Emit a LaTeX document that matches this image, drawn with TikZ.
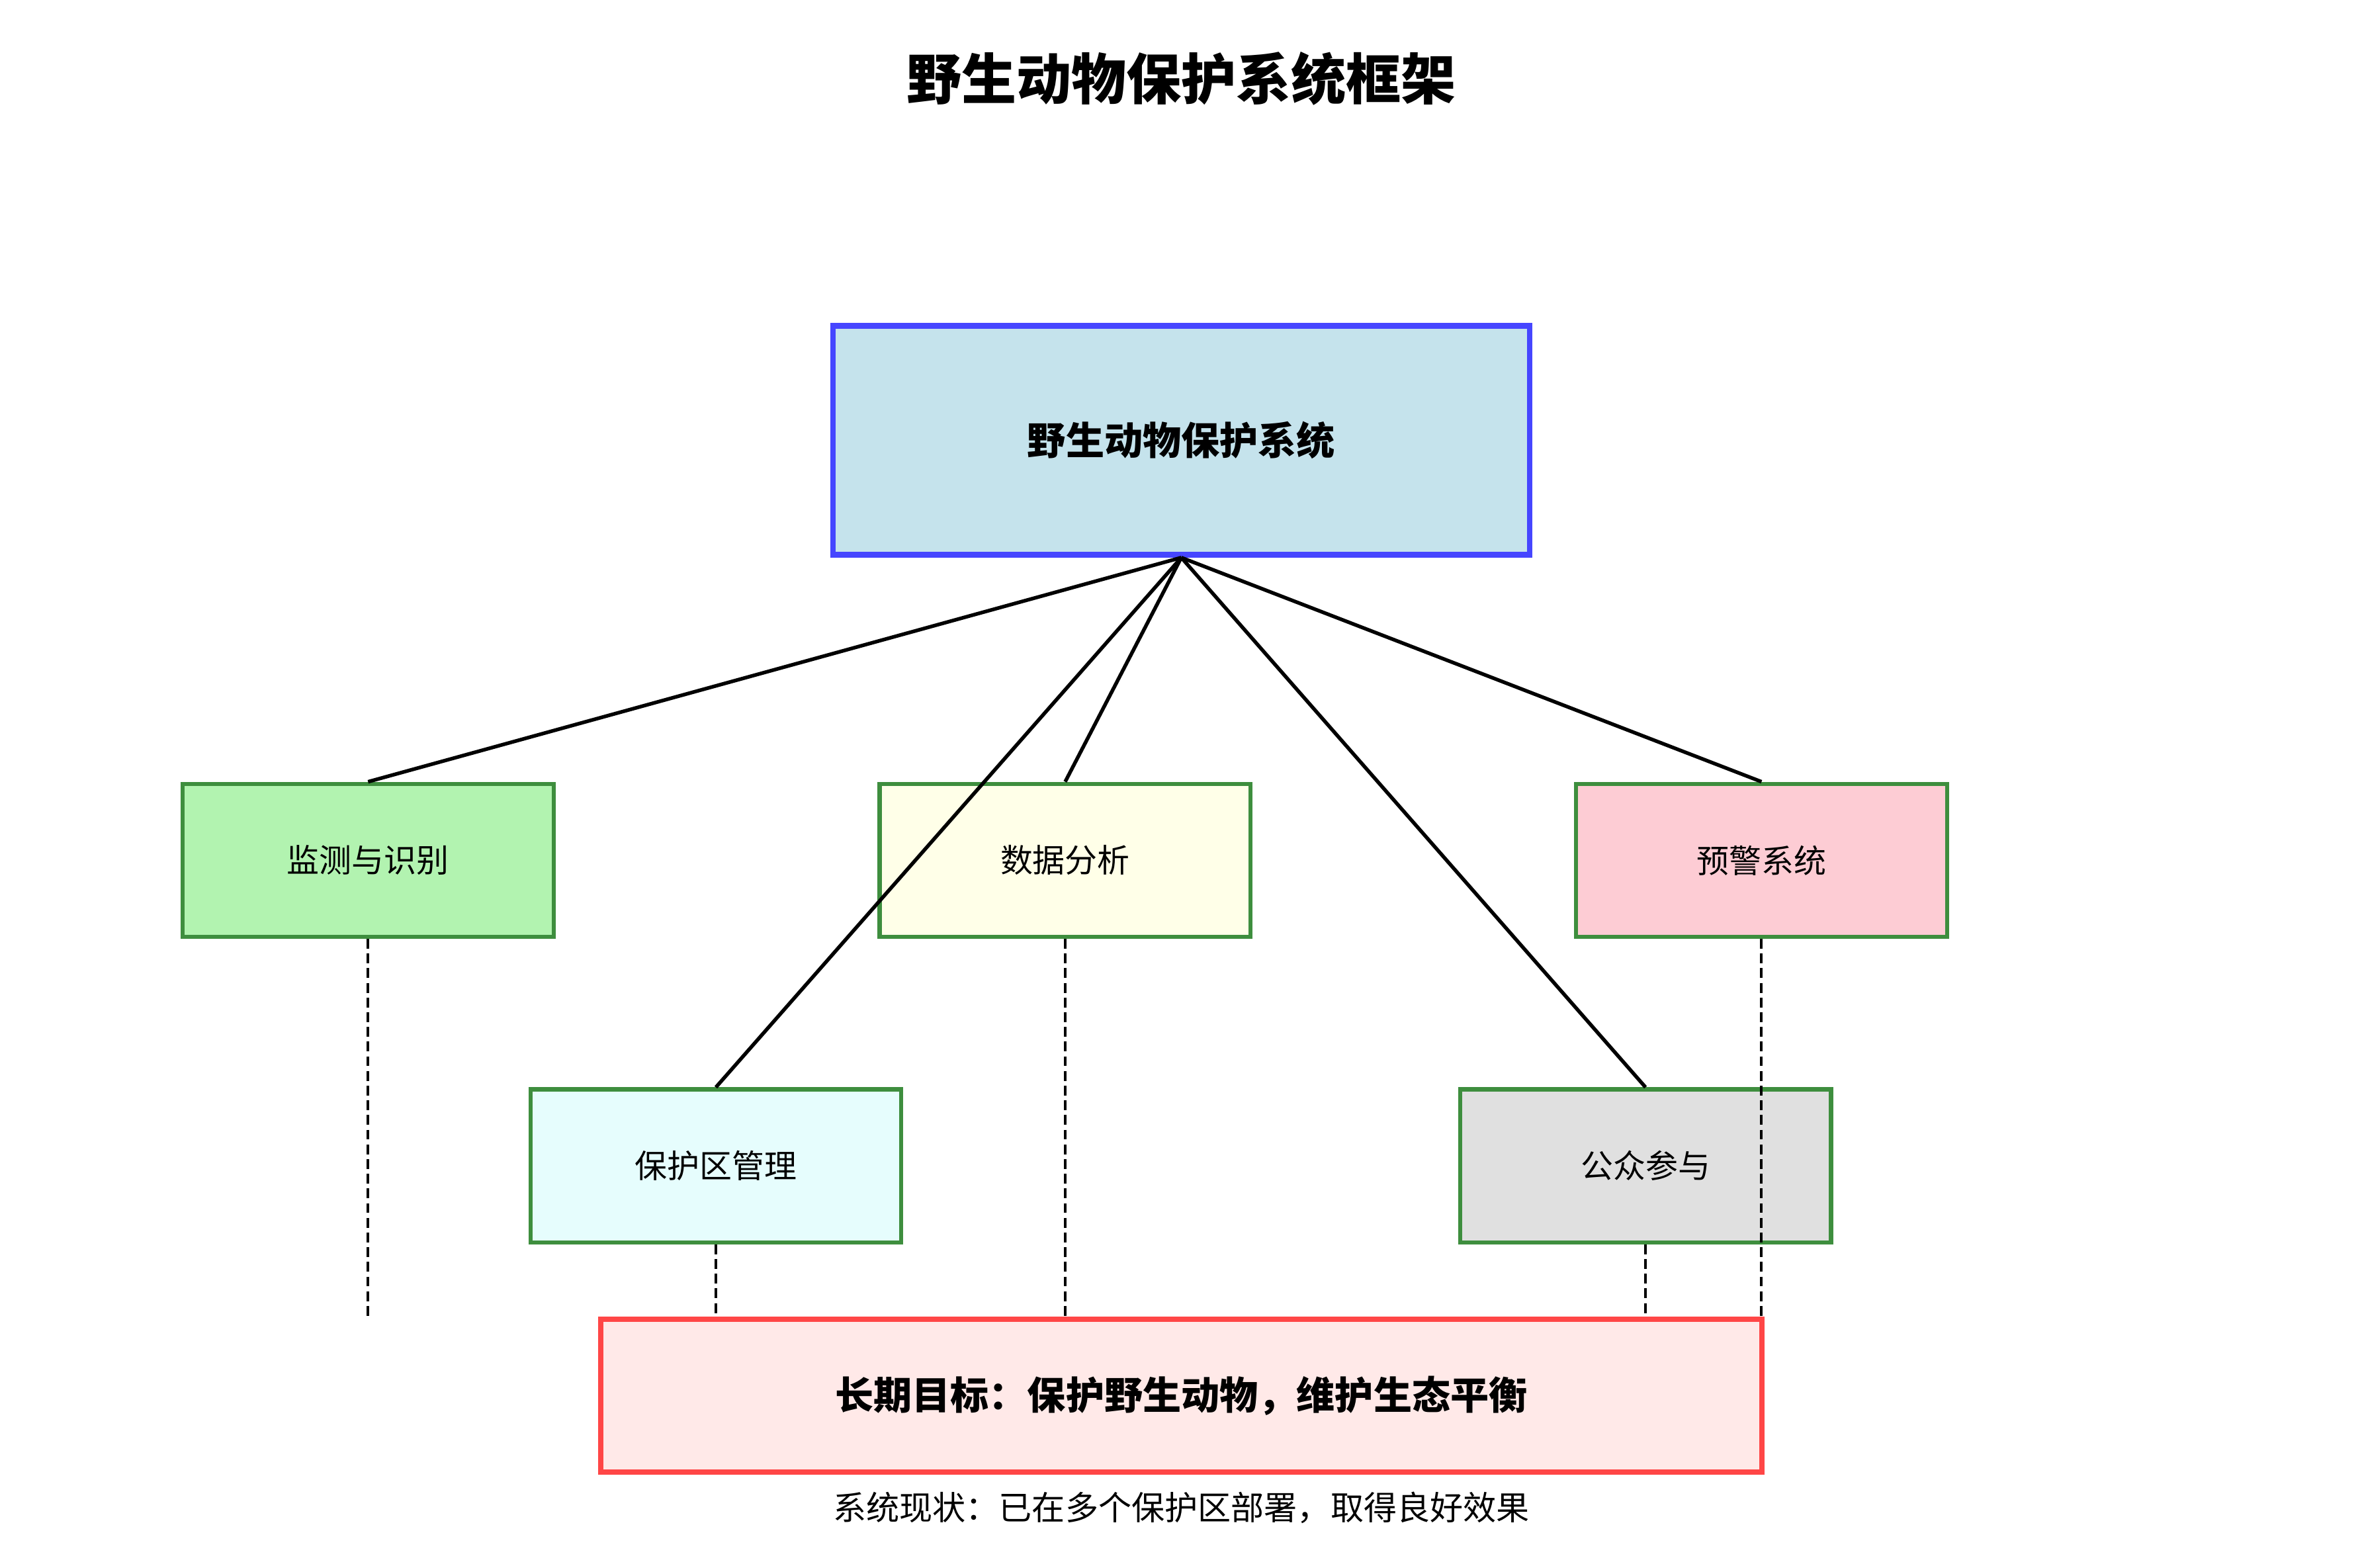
\documentclass[tikz,border=0pt]{standalone}
\usepackage{fontspec}
\setmainfont{Noto Sans CJK SC}
\begin{document}
\begin{tikzpicture}[x=1pt,y=-1pt,
  box/.style={draw=boxgreen,line width=2.75pt,inner sep=0pt,minimum width=245pt,minimum height=101pt,font=\fontsize{21.4}{24}\selectfont},
  link/.style={draw=black,line width=2.4pt},
  dlink/.style={draw=black,line width=1.75pt,dash pattern=on 6.5pt off 3.2pt},
  lbl/.style={font=\fontsize{21.9}{24}\selectfont},
  blbl/.style={font=\fontsize{25.4}{28}\selectfont\bfseries}]
\definecolor{boxgreen}{HTML}{3E8E3E}
\definecolor{topfill}{HTML}{C5E3EC}
\definecolor{topline}{HTML}{4646FF}
\definecolor{f1}{HTML}{B2F3B0}
\definecolor{f2}{HTML}{FFFFE8}
\definecolor{f3}{HTML}{FDCCD4}
\definecolor{f4}{HTML}{E6FDFD}
\definecolor{f5}{HTML}{E0E0E0}
\definecolor{goalfill}{HTML}{FFE9E8}
\definecolor{goalline}{HTML}{FF4646}
\path[use as bounding box,fill=white] (0,0) rectangle (1560,1035.6);
\node[font=\fontsize{36.3}{40}\selectfont\bfseries] (title) at (780.2,51.8) {野生动物保护系统框架};
% top box
\node[draw=topline,fill=topfill,line width=3.63pt,minimum width=460pt,minimum height=151.3pt,inner sep=0pt,blbl] (top) at (780.2,290.8) {野生动物保护系统};
% second row
\node[box,fill=f1] (mon) at (243.1,568.2) {监测与识别};
\node[box,fill=f2] (data) at (703.5,568.2) {数据分析};
\node[box,fill=f3] (warn) at (1163.4,568.2) {预警系统};
% third row
\node[box,fill=f4] (res) at (472.8,770.0) {保护区管理};
\node[box,fill=f5] (pub) at (1086.8,770.0) {公众参与};
% goal
\node[draw=goalline,fill=goalfill,line width=3.5pt,minimum width=767pt,minimum height=101.1pt,inner sep=0pt,blbl] (goal) at (780.2,921.7) {长期目标：保护野生动物，维护生态平衡};
\node[lbl] (status) at (780.2,996) {系统现状：已在多个保护区部署，取得良好效果};
% dashed connectors
\coordinate (monend) at (mon.south |- goal.north);
\draw[dlink] (mon.south) -- (monend);
\draw[dlink] (data.south) -- (data.south |- goal.north);
\draw[dlink] (warn.south) -- (warn.south |- goal.north);
\draw[dlink] (res.south) -- (res.south |- goal.north);
\draw[dlink] (pub.south) -- (pub.south |- goal.north);
% solid connectors
\draw[link] (top.south) -- (mon.north);
\draw[link] (top.south) -- (data.north);
\draw[link] (top.south) -- (warn.north);
\draw[link] (top.south) -- (res.north);
\draw[link] (top.south) -- (pub.north);
\end{tikzpicture}
\end{document}
